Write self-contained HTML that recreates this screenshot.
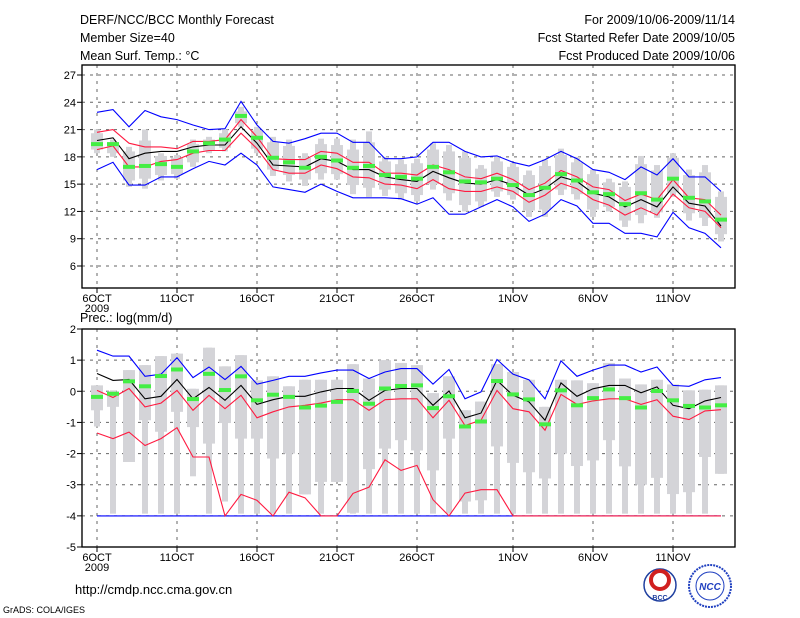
<!DOCTYPE html>
<html><head><meta charset="utf-8"><style>
body{margin:0;background:#fff;}
svg{display:block;font-family:"Liberation Sans",sans-serif;}
</style></head><body>
<svg id="c" width="800" height="618" viewBox="0 0 800 618">
<rect width="800" height="618" fill="#fff"/>
<g font-size="12.5" fill="#000">
<text x="80" y="24">DERF/NCC/BCC Monthly Forecast</text>
<text x="80" y="42">Member Size=40</text>
<text x="80" y="60">Mean Surf. Temp.: °C</text>
<text x="735" y="24" text-anchor="end">For 2009/10/06-2009/11/14</text>
<text x="735" y="42" text-anchor="end">Fcst Started Refer Date 2009/10/05</text>
<text x="735" y="60" text-anchor="end">Fcst Produced Date 2009/10/06</text>
<text x="80" y="322">Prec.: log(mm/d)</text>
<text x="75" y="594" font-size="13">http://cmdp.ncc.cma.gov.cn</text>
<text x="3" y="613" font-size="9">GrADS: COLA/IGES</text>
</g>
<g>
<circle cx="660" cy="585" r="16" fill="#fff" stroke="#2040a0" stroke-width="1.5"/>
<circle cx="660" cy="580" r="9" fill="none" stroke="#d02020" stroke-width="4"/>
<text x="660" y="600" font-size="7" text-anchor="middle" font-weight="bold" fill="#2040a0">BCC</text>
</g>
<g>
<circle cx="710" cy="586" r="21" fill="#fff" stroke="#2040c0" stroke-width="2" stroke-dasharray="2 1"/>
<circle cx="710" cy="586" r="14" fill="none" stroke="#2040c0" stroke-width="1"/>
<text x="710" y="590" font-size="10" text-anchor="middle" font-style="italic" font-weight="bold" fill="#2040c0">NCC</text>
</g>
<g id="top"></g>
<g id="bot"></g>
</svg>
<script>
const dateLabels=["6OCT","11OCT","16OCT","21OCT","26OCT","1NOV","6NOV","11NOV"];
const dateIdx=[0,5,10,15,20,26,31,36];
const tTicks=[6,9,12,15,18,21,24,27];
const bTicks=[-5,-4,-3,-2,-1,0,1,2];
const tMean=[19.8,20.1,17.8,18.4,18.6,18.6,19.1,19.3,19.3,21.3,19.5,17.1,17.0,16.9,17.8,17.5,16.6,16.6,15.8,15.5,15.3,16.4,15.7,15.1,15.0,15.5,14.9,13.8,14.5,15.8,15.3,14.0,13.6,12.5,13.3,12.5,14.7,12.9,12.6,10.4];
const tRedHi=[20.7,21.0,19.5,19.1,19.1,18.9,19.7,19.7,19.9,22.1,20.2,17.8,17.7,17.7,18.6,18.4,17.4,17.4,16.2,16.2,16.0,17.1,16.6,15.8,15.6,16.2,15.5,14.4,15.1,16.5,15.8,14.7,14.4,13.2,13.9,13.3,15.5,13.5,13.3,11.6];
const tRedLo=[18.8,19.2,16.9,16.9,17.5,17.7,18.4,18.7,18.7,20.6,18.9,16.6,16.2,16.2,17.1,16.7,15.8,15.7,15.0,14.9,14.5,15.5,14.5,14.2,14.2,14.7,14.2,13.0,13.8,15.1,14.5,13.3,12.7,11.6,12.4,11.6,13.9,12.4,12.0,10.2];
const tBlueHi=[22.9,23.2,21.3,23.1,22.4,22.1,21.5,21.0,21.1,24.1,21.5,19.7,19.5,20.0,20.6,20.6,19.6,19.6,17.8,17.8,18.0,19.6,19.6,18.6,18.0,18.1,17.4,17.0,17.7,18.6,17.8,16.6,16.3,15.5,16.9,16.0,17.8,15.8,15.8,14.2];
const tBlueLo=[16.6,17.4,14.9,14.9,15.8,15.8,16.7,17.5,17.1,18.4,17.1,14.7,14.4,14.1,15.0,14.2,13.5,13.5,13.5,13.4,12.8,13.5,11.7,11.7,12.5,13.3,12.5,10.9,11.7,13.3,12.6,10.7,10.7,9.6,9.6,9.2,11.9,10.2,9.6,8.0];
const tObs=[19.4,19.4,16.9,17.0,17.2,16.9,18.6,19.5,19.9,22.5,20.1,17.9,17.4,16.8,18.0,17.6,16.8,17.0,16.0,15.8,15.6,16.9,16.3,15.3,15.2,15.6,14.9,13.8,14.6,16.1,15.4,14.1,13.9,12.8,14.0,13.3,15.6,13.5,13.1,11.1];
const tMax=[21.0,19.9,19.1,21.0,18.4,18.2,19.9,20.2,21.0,23.5,21.3,20.2,19.9,18.4,20.0,20.0,19.9,20.8,18.0,17.7,17.8,19.5,19.3,18.6,17.1,18.0,17.3,16.5,17.7,18.9,18.0,16.6,15.6,15.3,18.1,17.1,18.4,16.6,17.1,14.2];
const tQ3=[20.6,19.6,18.6,19.8,18.1,17.9,19.4,19.9,20.6,23.0,20.9,19.6,19.2,17.9,19.4,19.3,18.8,19.6,17.5,17.2,17.3,18.8,18.6,17.9,16.7,17.5,16.9,16.0,17.0,18.2,17.4,16.1,15.2,14.7,17.2,16.5,17.9,16.0,16.3,13.6];
const tQ1=[18.8,18.4,15.4,15.6,16.0,16.1,17.4,18.7,19.0,21.7,18.9,16.6,16.0,15.5,16.2,16.1,14.9,14.6,14.4,14.0,13.8,15.0,14.0,12.7,13.1,14.2,13.8,12.1,12.2,14.4,13.9,12.2,12.5,11.0,11.6,11.9,14.1,11.8,11.3,9.5];
const tMin=[18.4,18.0,14.7,14.5,15.4,15.6,16.9,18.4,18.6,21.3,18.4,15.9,15.3,14.8,15.5,15.5,13.9,13.6,13.7,13.3,13.1,14.4,13.2,12.0,12.5,13.6,13.3,11.4,11.4,13.8,13.3,11.4,12.0,10.3,10.7,11.3,13.6,11.0,10.4,8.7];
const bMean=[0.57,0.35,0.38,-0.24,-0.16,0.38,-0.24,0.12,-0.29,0.19,-0.42,-0.27,-0.16,-0.16,-0.02,0.09,0.09,-0.29,0.03,0.09,0.09,-0.45,0.01,-0.85,-0.70,0.35,-0.13,-0.34,-0.93,0.27,-0.16,0.08,0.19,0.19,-0.05,0.14,-0.45,-0.56,-0.31,-0.20];
const bRedHi=[0.03,-0.2,0.09,-0.5,-0.38,0.03,-0.61,-0.13,-0.56,-0.13,-0.85,-0.66,-0.5,-0.45,-0.38,-0.27,-0.27,-0.61,-0.27,-0.24,-0.24,-0.85,-0.29,-1.1,-0.93,0.03,-0.56,-0.66,-1.25,-0.1,-0.42,-0.31,-0.24,-0.24,-0.42,-0.27,-0.8,-0.91,-0.63,-0.59];
const bRedLo=[-1.34,-1.52,-1.31,-1.74,-1.52,-1.17,-2.11,-2.11,-4,-3.31,-3.5,-4,-3.24,-3.42,-4,-4,-3.28,-3.08,-2.2,-2.54,-2.38,-3.48,-4,-3.27,-3.16,-3.16,-4,-4,-4,-4,-4,-4,-4,-4,-4,-4,-4,-4,-4,-4];
const bBlueHi=[1.32,1.13,1.13,0.48,0.55,1.08,0.44,0.78,0.38,0.8,0.23,0.35,0.48,0.48,0.59,0.68,0.68,0.41,0.62,0.73,0.73,0.23,0.70,-0.24,-0.02,1.02,0.55,0.37,-0.24,0.98,0.48,0.68,0.84,0.84,0.62,0.78,0.19,0.16,0.37,0.44];
const bBlueLo=[-4,-4,-4,-4,-4,-4,-4,-4,-4,-4,-4,-4,-4,-4,-4,-4,-4,-4,-4,-4,-4,-4,-4,-4,-4,-4,-4,-4,-4,-4,-4,-4,-4,-4,-4,-4,-4,-4,-4,-4];
const bObs=[-0.18,-0.08,0.32,0.16,0.49,0.7,-0.25,0.56,0.04,0.48,-0.29,-0.11,-0.18,-0.52,-0.46,-0.34,0.01,-0.4,0.09,0.17,0.19,-0.54,-0.16,-1.13,-0.97,0.33,-0.1,-0.26,-1.06,0.03,-0.45,-0.22,0.06,-0.22,-0.52,0.01,-0.29,-0.47,-0.52,-0.45];
const bMax=[0.19,0.03,0.68,0.84,1.13,1.21,0.08,1.40,0.80,1.16,0.35,0.48,0.16,0.37,0.37,0.37,0.87,0.41,1.0,0.91,0.84,-0.06,0.48,-0.61,-0.33,0.87,0.62,0.37,-0.50,0.37,0.35,0.26,0.91,0.41,0.22,0.37,0.22,0.03,0.05,0.19];
const bQ3=[0.19,0.0,0.68,0.84,1.13,1.21,0.08,1.40,0.80,1.16,0.35,0.48,0.16,0.37,0.37,0.37,0.87,0.41,1.0,0.91,0.84,-0.06,0.48,-0.61,-0.33,0.87,0.62,0.37,-0.50,0.37,0.35,0.26,0.91,0.41,0.22,0.37,0.22,0.03,0.05,0.19];
const bQ1=[-0.61,-0.50,-2.27,-0.93,-1.3,-0.66,-1.15,-1.68,-1.02,-1.52,-1.52,-2.16,-2.0,-3.31,-2.91,-2.91,-3.9,-2.5,-1.84,-1.57,-1.90,-2.54,-1.52,-3.54,-3.50,-1.77,-2.3,-2.6,-2.8,-2.00,-2.4,-2.22,-1.57,-2.41,-3.0,-2.78,-3.3,-3.24,-2.11,-2.65];
const bMin=[-1.13,-3.93,-2.27,-3.93,-3.93,-3.93,-2.73,-3.93,-3.54,-3.93,-3.93,-3.93,-3.93,-3.31,-3.93,-2.91,-3.93,-3.93,-3.93,-3.93,-3.93,-3.93,-3.93,-3.93,-3.93,-3.93,-3.93,-3.93,-3.93,-3.93,-3.93,-3.93,-3.93,-3.93,-3.93,-3.93,-3.93,-3.93,-3.93,-2.65];

const NS="http://www.w3.org/2000/svg";
const L=82,R=735;
function xDay(i){return 97+16*i;}
function mk(g,tag,attrs){const e=document.createElementNS(NS,tag);for(const k in attrs)e.setAttribute(k,attrs[k]);g.appendChild(e);return e;}

function panel(g,top,bottom,yOf,ticks,S,pfx){
  // frame
  const fr=mk(g,'rect',{x:L,y:top,width:R-L,height:bottom-top,fill:'#fff',stroke:'#000','stroke-width':1.2});
  
  
  // gridlines
  ticks.forEach(v=>{
    const y=yOf(v);
    if(y>top+1&&y<bottom-1){
      const gl=mk(g,'line',{x1:L,x2:R,y1:y,y2:y,stroke:'#666','stroke-dasharray':'3 5','stroke-width':1});
      
      
    }
    const tk=mk(g,'line',{x1:L-5,x2:L,y1:y,y2:y,stroke:'#000'});
    
    
    const t=mk(g,'text',{x:L-6,y:y+4,'text-anchor':'end','font-size':11});
    t.textContent=String(v);
    
    
  });
  dateIdx.forEach((d,k)=>{
    const x=xDay(d);
    const gl=mk(g,'line',{x1:x,x2:x,y1:top,y2:bottom,stroke:'#666','stroke-dasharray':'3 5'});
    
    
    const tk=mk(g,'line',{x1:x,x2:x,y1:bottom,y2:bottom+5,stroke:'#000'});
    
    
    const t=mk(g,'text',{x:x,y:bottom+14,'text-anchor':'middle','font-size':11});
    t.textContent=dateLabels[k];
    
    
  });
  const yr=mk(g,'text',{x:xDay(0),y:bottom+24,'text-anchor':'middle','font-size':11});
  yr.textContent='2009';
  
  
  // boxes
  S.max.forEach((mx,i)=>{
    const x=xDay(i);
    const w=mk(g,'rect',{x:x-3,y:yOf(mx),width:6,height:Math.max(1,yOf(S.min[i])-yOf(mx)),fill:'#d4d4d8'});
    
    
    const b=mk(g,'rect',{x:x-6,y:yOf(S.q3[i]),width:12,height:Math.max(1,yOf(S.q1[i])-yOf(S.q3[i])),fill:'#d4d4d8'});
    
    
  });
  function line(arr,color,name){
    const p=mk(g,'polyline',{points:arr.map((v,i)=>xDay(i)+','+yOf(v).toFixed(1)).join(' '),fill:'none',stroke:color,'stroke-width':1.1});
    
    
  }
  line(S.blueLo,'#0000ff',pfx+'-min-line');
  line(S.blueHi,'#0000ff',pfx+'-max-line');
  line(S.redLo,'#ff1a40',pfx+'-lower-line');
  line(S.redHi,'#ff1a40',pfx+'-upper-line');
  line(S.mean,'#000',pfx+'-mean-line');
  S.obs.forEach((v,i)=>{
    const r=mk(g,'rect',{x:xDay(i)-6,y:yOf(v)-2,width:12,height:4,fill:'#44ee44'});
    
    
  });
  mk(g,'rect',{x:L,y:top,width:R-L,height:bottom-top,fill:'none',stroke:'#000','stroke-width':1.2});
}
const yT=v=>75+(27-v)*(191/21);
const yB=v=>329+(2-v)*(218/7);
panel(document.getElementById('top'),65,288,yT,tTicks,
 {mean:tMean,redHi:tRedHi,redLo:tRedLo,blueHi:tBlueHi,blueLo:tBlueLo,obs:tObs,max:tMax,q3:tQ3,q1:tQ1,min:tMin},'temp');
panel(document.getElementById('bot'),329,547,yB,bTicks,
 {mean:bMean,redHi:bRedHi,redLo:bRedLo,blueHi:bBlueHi,blueLo:bBlueLo,obs:bObs,max:bMax,q3:bQ3,q1:bQ1,min:bMin},'prec');
</script>
</body></html>
